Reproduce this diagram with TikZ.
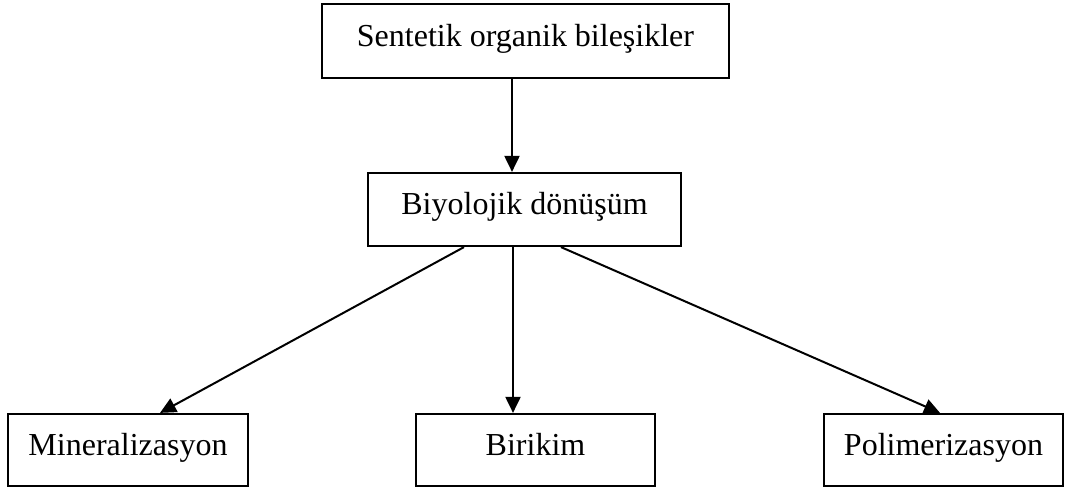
\documentclass[tikz,border=0pt]{standalone}
\usepackage{fontspec}
\setmainfont{Liberation Serif}
\usetikzlibrary{arrows.meta}

\tikzset{
  box/.style={draw=black, line width=2.2pt, rectangle, inner sep=0pt,
    font=\fontsize{32}{38}\selectfont, text height=22pt, text depth=12pt},
  link/.style={draw=black, line width=2pt,
    -{Triangle[length=16pt, width=15pt]}}
}

\begin{document}
\begin{tikzpicture}[x=1pt, y=-1pt]
  \useasboundingbox (0,0) rectangle (1066,488);

  % boxes
  \node[box, minimum width=407pt, minimum height=74pt] (src) at (525.5,41)
    {Sentetik organik bileşikler};
  \node[box, minimum width=313pt, minimum height=73pt] (bio) at (524.5,209.5)
    {Biyolojik dönüşüm};
  \node[box, minimum width=240pt, minimum height=72pt] (min) at (128,450)
    {Mineralizasyon};
  \node[box, minimum width=239pt, minimum height=72pt] (bir) at (535.5,450)
    {Birikim};
  \node[box, minimum width=239pt, minimum height=72pt] (pol) at (943.5,450)
    {Polimerizasyon};

  % connectors
  \draw[link] ([xshift=-13.5pt]src.south) -- ([xshift=-12.5pt]bio.north);
  \draw[link] ([xshift=-60.5pt]bio.south) -- ([xshift=32pt]min.north);
  \draw[link] ([xshift=-11.5pt]bio.south) -- ([xshift=-22.5pt]bir.north);
  \draw[link] ([xshift=36.5pt]bio.south) -- ([xshift=-3.5pt]pol.north);
\end{tikzpicture}
\end{document}
